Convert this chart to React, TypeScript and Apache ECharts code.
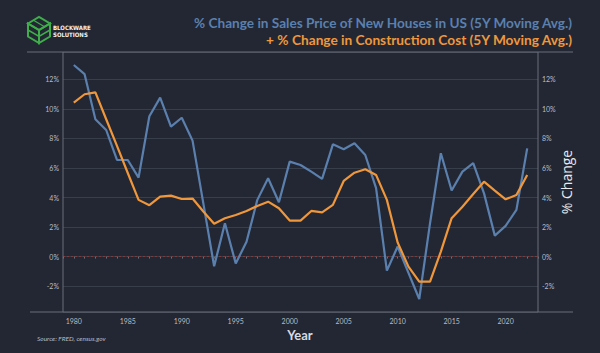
import { useEffect, useRef } from 'react';
import * as echarts from 'echarts';

const years = [
  1980, 1981, 1982, 1983, 1984, 1985, 1986, 1987, 1988, 1989,
  1990, 1991, 1992, 1993, 1994, 1995, 1996, 1997, 1998, 1999,
  2000, 2001, 2002, 2003, 2004, 2005, 2006, 2007, 2008, 2009,
  2010, 2011, 2012, 2013, 2014, 2015, 2016, 2017, 2018, 2019,
  2020, 2021, 2022,
];

const salesPriceChange = [
  12.97, 12.35, 9.3, 8.57, 6.54, 6.54, 5.35, 9.5, 10.76, 8.8,
  9.4, 7.85, 3.6, -0.65, 2.26, -0.47, 1.01, 3.84, 5.3, 3.68,
  6.43, 6.2, 5.75, 5.26, 7.6, 7.27, 7.67, 6.88, 4.63, -0.95,
  0.68, -1.1, -2.87, 2.26, 7.0, 4.47, 5.75, 6.32, 4.28, 1.42,
  2.08, 3.16, 7.33,
];

const constructionCostChange = [
  10.42, 10.99, 11.12, 9.3, 7.5, 5.66, 3.84, 3.48, 4.06, 4.13,
  3.9, 3.93, 3.05, 2.23, 2.6, 2.82, 3.09, 3.43, 3.72, 3.27,
  2.44, 2.44, 3.09, 3.0, 3.5, 5.12, 5.68, 5.91, 5.53, 3.84,
  0.95, -0.68, -1.69, -1.69, 0.34, 2.6, 3.38, 4.24, 5.07, 4.47,
  3.88, 4.17, 5.53,
];

const xMin = 1979;
const xMax = 2023;
const yMin = -3.75;
const yMax = 13.85;

const titleLine1 = '% Change in Sales Price of New Houses in US (5Y Moving Avg.)';
const titleLine2 = '+ % Change in Construction Cost (5Y Moving Avg.)';

const BG = '#222733';
const BLUE = '#5b80ae';
const ORANGE = '#f0973b';
const GREEN = '#3fae4a';
const FRAME = '#6a6f7a';
const GRID = '#393e4b';
const LABEL = '#b8bcc4';

export default function App() {
  const ref = useRef<HTMLDivElement>(null);

  useEffect(() => {
    document.body.style.margin = '0';
    document.body.style.background = BG;
    if (!ref.current) return;
    const chart = echarts.init(ref.current, null, { renderer: 'svg' });

    const yLabelFmt = (v: number) =>
      Math.abs(v - Math.round(v)) < 1e-6 && Math.round(v) % 2 === 0 ? `${Math.round(v)}%` : '';

    chart.setOption({
      animation: false,
      backgroundColor: BG,
      grid: { left: 63, right: 62, top: 52, bottom: 41, containLabel: false },
      xAxis: {
        type: 'value',
        min: xMin,
        max: xMax,
        interval: 1,
        axisLine: { show: false },
        axisTick: { show: true, length: 2, lineStyle: { color: FRAME } },
        splitLine: { show: false },
        axisLabel: {
          color: LABEL,
          fontSize: 7,
          fontFamily: 'Lato',
          margin: 5,
          formatter: (v: number) => (v % 5 === 0 ? String(v) : ''),
        },
      },
      yAxis: [
        {
          type: 'value',
          min: yMin,
          max: yMax,
          splitNumber: 9,
          axisLine: { show: false },
          axisTick: { show: false },
          splitLine: { show: true, lineStyle: { color: GRID, width: 1 } },
          axisLabel: { color: LABEL, fontSize: 7, fontFamily: 'Lato', margin: 4, formatter: yLabelFmt },
        },
        {
          type: 'value',
          position: 'right',
          min: yMin,
          max: yMax,
          splitNumber: 9,
          axisLine: { show: false },
          axisTick: { show: false },
          splitLine: { show: false },
          axisLabel: { color: LABEL, fontSize: 7, fontFamily: 'Lato', margin: 4, formatter: yLabelFmt },
        },
      ],
      series: [
        {
          name: 'Construction Cost',
          type: 'line',
          yAxisIndex: 0,
          data: years.map((y, i) => [y, constructionCostChange[i]]),
          showSymbol: false,
          lineStyle: { color: ORANGE, width: 2.2 },
          itemStyle: { color: ORANGE },
          z: 3,
          markLine: {
            silent: true,
            symbol: 'none',
            label: { show: false },
            lineStyle: { color: '#7d3b3b', type: [2, 2], width: 1 },
            data: [{ yAxis: 0 }],
            z: 1,
          },
        },
        {
          name: 'Sales Price',
          type: 'line',
          yAxisIndex: 0,
          data: years.map((y, i) => [y, salesPriceChange[i]]),
          showSymbol: false,
          lineStyle: { color: BLUE, width: 2.2 },
          itemStyle: { color: BLUE },
          z: 2,
        },
      ],
      graphic: [
        // frame lines
        { type: 'line', shape: { x1: 27, y1: 52, x2: 573, y2: 52 }, style: { stroke: FRAME, lineWidth: 1 }, z: 10 },
        { type: 'line', shape: { x1: 30, y1: 312, x2: 573, y2: 312 }, style: { stroke: FRAME, lineWidth: 1 }, z: 10 },
        { type: 'line', shape: { x1: 63, y1: 52, x2: 63, y2: 312 }, style: { stroke: FRAME, lineWidth: 1 }, z: 10 },
        { type: 'line', shape: { x1: 538, y1: 52, x2: 538, y2: 312 }, style: { stroke: FRAME, lineWidth: 1 }, z: 10 },
        // titles
        {
          type: 'text', right: 28, top: 16,
          style: { text: titleLine1, fill: BLUE, font: 'bold 13.6px Lato', textAlign: 'right' },
        },
        {
          type: 'text', right: 28, top: 32,
          style: { text: titleLine2, fill: ORANGE, font: 'bold 13.7px Lato', textAlign: 'right' },
        },
        // axis names
        {
          type: 'text', x: 300, y: 335,
          style: { text: 'Year', fill: '#d8dbe0', font: 'bold 13px Lato', textAlign: 'center', textVerticalAlign: 'middle' },
        },
        {
          type: 'text', x: 566, y: 182, rotation: Math.PI / 2,
          style: { text: '% Change', fill: '#e8eaee', font: '14px "Open Sans"', textAlign: 'center', textVerticalAlign: 'middle' },
        },
        {
          type: 'text', x: 37, y: 338,
          style: { text: 'Source: FRED, census.gov', fill: LABEL, font: 'italic 6.5px Lato', textAlign: 'left', textVerticalAlign: 'middle' },
        },
        // logo
        {
          type: 'group', x: 28, y: 17,
          children: [
            { type: 'polygon', shape: { points: [[0, 6.5], [11, 0], [22, 6.5], [11, 13]] }, style: { fill: 'none', stroke: GREEN, lineWidth: 2 } },
            { type: 'polygon', shape: { points: [[0, 6.5], [11, 13], [11, 26], [0, 19.5]] }, style: { fill: 'none', stroke: GREEN, lineWidth: 2 } },
            { type: 'polygon', shape: { points: [[11, 13], [22, 6.5], [22, 19.5], [11, 26]] }, style: { fill: 'none', stroke: GREEN, lineWidth: 2 } },
            { type: 'polyline', shape: { points: [[0, 13], [11, 19.5], [22, 13]] }, style: { fill: 'none', stroke: GREEN, lineWidth: 1.5 } },
            { type: 'polyline', shape: { points: [[5.5, 3.2], [16.5, 9.7]] }, style: { fill: 'none', stroke: GREEN, lineWidth: 1.2 } },
          ],
        },
        {
          type: 'text', x: 53, y: 27,
          style: { text: 'BLOCKWARE', fill: '#f2f2f2', font: 'bold 6px "DejaVu Sans Condensed"', textAlign: 'left', textVerticalAlign: 'middle' },
        },
        {
          type: 'text', x: 53, y: 34,
          style: { text: 'SOLUTIONS', fill: '#f2f2f2', font: 'bold 6px "DejaVu Sans Condensed"', textAlign: 'left', textVerticalAlign: 'middle' },
        },
      ],
    });

    return () => chart.dispose();
  }, []);

  return (
    <div
      ref={ref}
      style={{ position: 'fixed', left: 0, top: 0, width: 600, height: 353, background: BG }}
    />
  );
}
